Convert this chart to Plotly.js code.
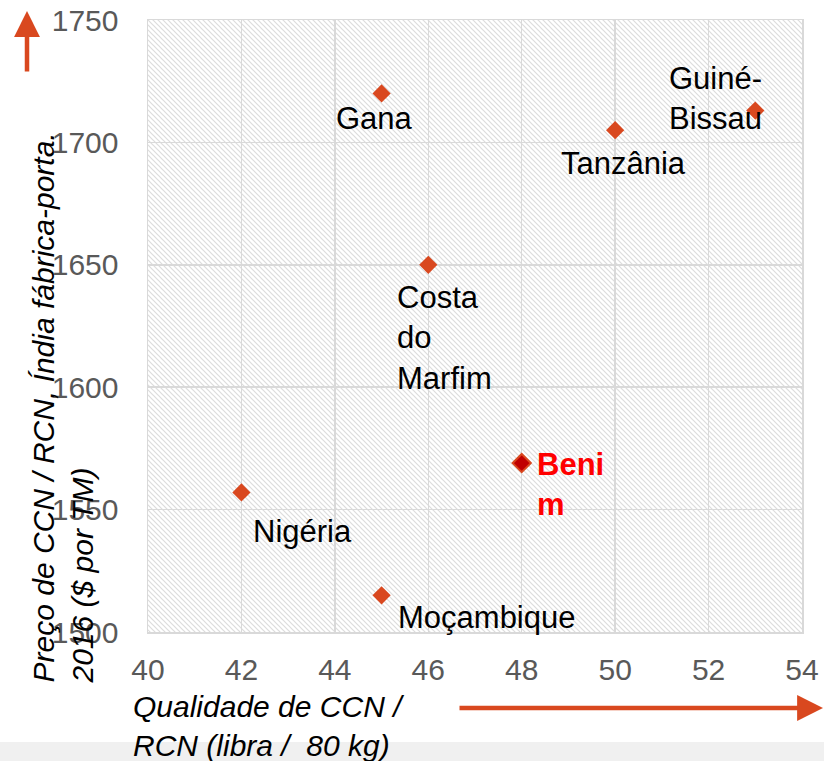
<!DOCTYPE html>
<html>
<head>
<meta charset="utf-8">
<script src="https://cdn.plot.ly/plotly-3.0.1.min.js"></script>
<style>html,body{margin:0;padding:0;background:#fff;}#chart{width:824px;height:761px;}</style>
</head>
<body>
<div id="chart"></div>
<script>
// ---- data ----
const countries = ["Gana", "Tanzânia", "Guiné-Bissau", "Costa do Marfim", "Benim", "Nigéria", "Moçambique"];
const labelTexts = ["Gana", "Tanzânia", "Guiné-<br>Bissau", "Costa<br>do<br>Marfim", "Beni<br>m", "Nigéria", "Moçambique"];
const quality = [45, 50, 53, 46, 48, 42, 45];
const price = [1720, 1705, 1713, 1650, 1569, 1557, 1515];
const xTicks = [40, 42, 44, 46, 48, 50, 52, 54];
const yTicks = [1500, 1550, 1600, 1650, 1700, 1750];
const highlight = "Benim";

// ---- styles ----
const FONT = "Liberation Sans, Arial, sans-serif";
const ORANGE = "#D9481F";
// label offsets (pixels) relative to each point: [xanchor, xshift, yshift]
const labelStyle = {
  "Gana": ["center", -7, -25],
  "Tanzânia": ["center", 8, -33],
  "Guiné-Bissau": ["left", -88, 12],
  "Costa do Marfim": ["left", -33, -73],
  "Benim": ["left", 13, -21],
  "Nigéria": ["left", 10, -39],
  "Moçambique": ["left", 14, -22]
};

const W = 824, H = 761;
const M = {l: 148, r: 22, t: 20, b: 129};
const pw = W - M.l - M.r, ph = H - M.t - M.b;

// hatch background for the plot area
const svg = `<svg xmlns="http://www.w3.org/2000/svg" width="${pw}" height="${ph}">` +
  `<defs><pattern id="h" patternUnits="userSpaceOnUse" width="5" height="5">` +
  `<rect width="5" height="5" fill="#ffffff"/>` +
  `<path d="M-1,-1 L6,6 M-1,4 L1,6 M4,-1 L6,1" stroke="#dcdcdc" stroke-width="1.2"/>` +
  `</pattern></defs><rect width="${pw}" height="${ph}" fill="url(#h)"/></svg>`;
const hatchSrc = "data:image/svg+xml;base64," + btoa(svg);

const colors = countries.map(c => c === highlight ? "#C00000" : ORANGE);

const trace = {
  x: quality, y: price, type: "scatter", mode: "markers",
  text: countries, hoverinfo: "text+x+y",
  marker: {symbol: "diamond", size: 14, color: colors, line: {color: ORANGE, width: countries.map(c => c === highlight ? 2 : 0)}}
};

const annotations = countries.map((c, i) => {
  const s = labelStyle[c];
  const hl = c === highlight;
  return {
    x: quality[i], y: price[i], xref: "x", yref: "y",
    text: hl ? "<b>" + labelTexts[i] + "</b>" : labelTexts[i],
    showarrow: false, xanchor: s[0], yanchor: "middle", align: s[0] === "left" ? "left" : "center",
    xshift: s[1], yshift: s[2],
    font: {family: FONT, size: 31, color: hl ? "#FF0000" : "#000000"}
  };
});

// axis titles
annotations.push({
  xref: "paper", yref: "paper",
  x: (62 - M.l) / pw, y: (ph + M.t - 686) / ph,
  xanchor: "center", yanchor: "bottom", textangle: -90, align: "left",
  text: "Preço de CCN / RCN, Índia fábrica-porta.<br>2016 ($ por TM)",
  showarrow: false, font: {family: FONT, size: 30, color: "#000", style: "italic"}
});
annotations.push({
  xref: "paper", yref: "paper",
  x: (131 - M.l) / pw, y: (ph + M.t - 688) / ph,
  xanchor: "left", yanchor: "top", align: "left",
  text: "Qualidade de CCN /<br>RCN (libra / \u00a080 kg)",
  showarrow: false, font: {family: FONT, size: 30, color: "#000", style: "italic"}
});
// arrows
annotations.push({
  xref: "paper", yref: "paper",
  x: (27 - M.l) / pw, y: (ph + M.t - 11) / ph,
  ax: 0, ay: 62, axref: "pixel", ayref: "pixel",
  showarrow: true, arrowhead: 2, arrowsize: 1.15, arrowwidth: 4.5, arrowcolor: ORANGE, text: ""
});
annotations.push({
  xref: "paper", yref: "paper",
  x: (824 - M.l) / pw, y: (ph + M.t - 708) / ph,
  ax: -366, ay: 0, axref: "pixel", ayref: "pixel",
  showarrow: true, arrowhead: 2, arrowsize: 1.15, arrowwidth: 4.5, arrowcolor: ORANGE, text: ""
});

const axisCommon = {
  showgrid: true, gridcolor: "#d9d9d9", gridwidth: 1.5,
  showline: true, linecolor: "#d9d9d9", linewidth: 1.5, mirror: true,
  zeroline: false, ticks: "",
  tickfont: {family: FONT, size: 30, color: "#595959"}
};

const layout = {
  width: W, height: H,
  margin: M,
  paper_bgcolor: "#ffffff", plot_bgcolor: "rgba(0,0,0,0)",
  showlegend: false,
  xaxis: Object.assign({}, axisCommon, {range: [40, 54], tickvals: xTicks, ticktext: xTicks.map(String), ticklabelstandoff: 10}),
  yaxis: Object.assign({}, axisCommon, {range: [1500, 1750], tickvals: yTicks, ticktext: yTicks.map(String), ticklabelstandoff: 22}),
  images: [{source: hatchSrc, xref: "paper", yref: "paper", x: 0, y: 1, sizex: 1, sizey: 1,
    xanchor: "left", yanchor: "top", sizing: "stretch", layer: "below"}],
  shapes: [{type: "rect", xref: "paper", yref: "paper", layer: "below",
    x0: -M.l / pw - 0.01, x1: (W - M.l) / pw + 0.01, y0: -(H - M.t) / ph - 0.05, y1: (ph + M.t - 742) / ph,
    fillcolor: "#f0f0f0", line: {width: 0}}],
  annotations: annotations
};

Plotly.newPlot("chart", [trace], layout, {displayModeBar: false, staticPlot: true});
</script>
</body>
</html>
